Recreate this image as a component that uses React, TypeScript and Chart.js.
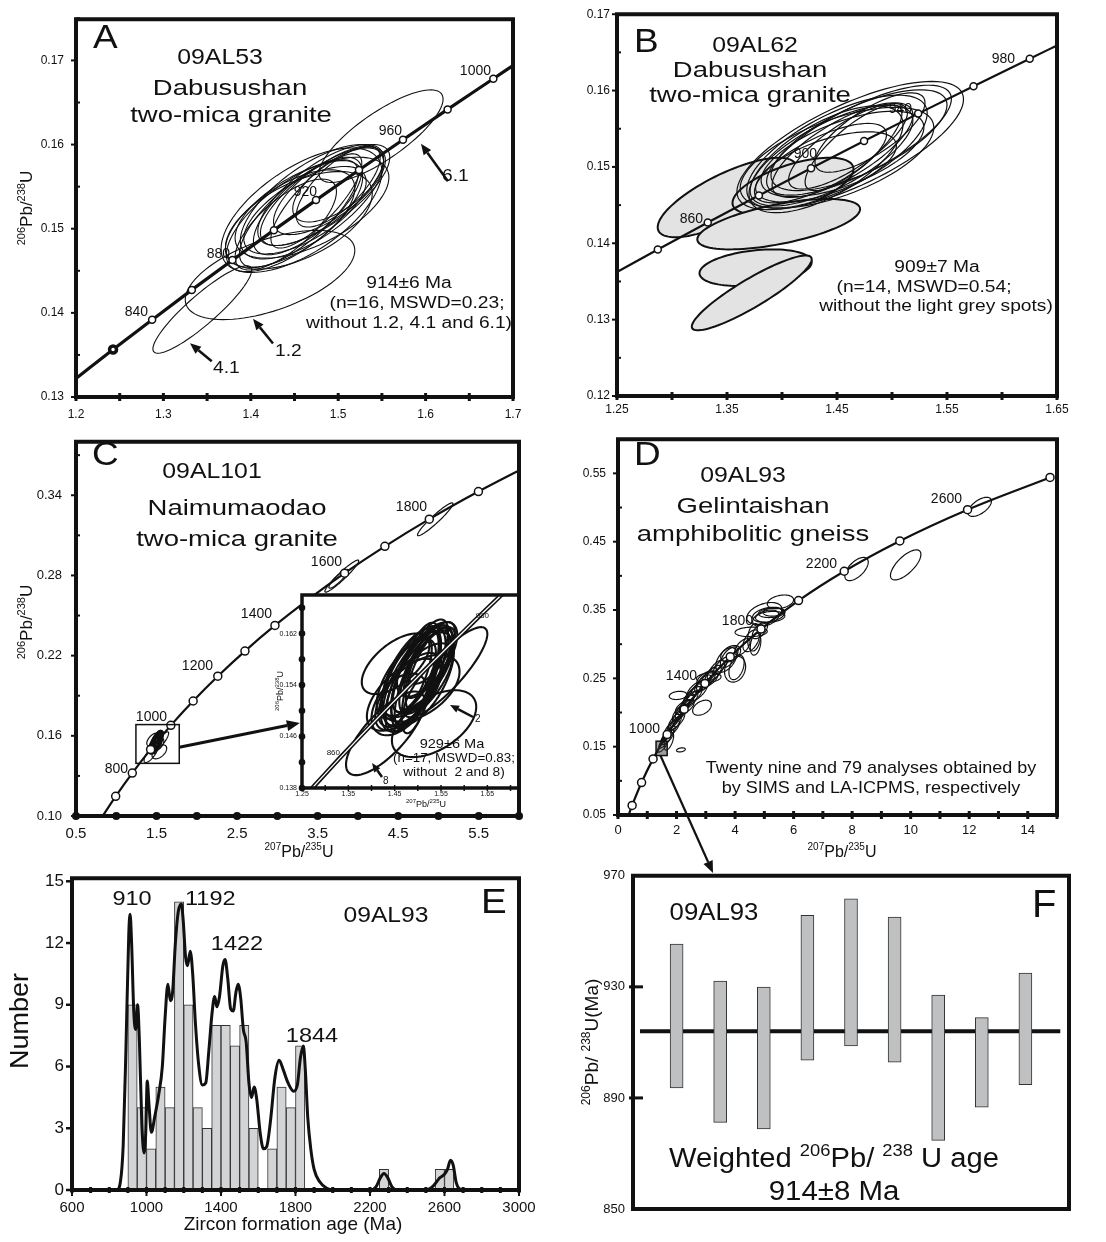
import React, { useEffect, useRef } from "react";
import { Chart, registerables } from "chart.js";

Chart.register(...registerables);

const FONT = "'Liberation Sans', Arial, Helvetica, sans-serif";
const INK = "#111";

type Ell = [number, number, number, number, number]; // cx, cy, halfX, halfY, rho

// ================= Panel A : 09AL53 =================
const aAgeX = [1.2424, 1.2871, 1.3325, 1.379, 1.4264, 1.4746, 1.5238, 1.5741, 1.6252, 1.6775];
const aAgeY = [0.13564, 0.13918, 0.14273, 0.14627, 0.14983, 0.1534, 0.15698, 0.16057, 0.16418, 0.16782];
const aEndX = [1.2, 1.7];
const aEndY = [0.1322, 0.1694];
const aCluster: Ell[] = [
  [1.458, 0.1522, 0.092, 0.0074, 0.62],
  [1.47, 0.1532, 0.082, 0.0068, 0.68],
  [1.45, 0.1515, 0.078, 0.0066, 0.7],
  [1.48, 0.154, 0.072, 0.006, 0.72],
  [1.455, 0.1518, 0.068, 0.0064, 0.75],
  [1.465, 0.1527, 0.062, 0.0058, 0.72],
  [1.49, 0.1545, 0.064, 0.0052, 0.7],
  [1.445, 0.1512, 0.074, 0.0058, 0.62],
  [1.475, 0.1533, 0.052, 0.0056, 0.8],
  [1.5, 0.1552, 0.052, 0.0044, 0.65],
  [1.47, 0.1525, 0.088, 0.006, 0.6],
  [1.455, 0.151, 0.084, 0.0058, 0.55],
  [1.485, 0.154, 0.074, 0.006, 0.75],
  [1.44, 0.1505, 0.058, 0.0054, 0.72],
  [1.5, 0.155, 0.048, 0.0048, 0.72],
  [1.462, 0.1522, 0.07, 0.0052, 0.65],
];
const aOutliers: Ell[] = [
  [1.549, 0.161, 0.071, 0.0055, 0.8], // 6.1
  [1.422, 0.1445, 0.097, 0.0053, 0.55], // 1.2
  [1.3445, 0.1404, 0.0565, 0.0052, 0.9], // 4.1
];

// ================= Panel B : 09AL62 =================
const bAgeX = [1.2871, 1.3325, 1.379, 1.4264, 1.4746, 1.5238, 1.5741, 1.6252];
const bAgeY = [0.13918, 0.14273, 0.14627, 0.14983, 0.1534, 0.15698, 0.16057, 0.16418];
const bEndX = [1.25, 1.65];
const bEndY = [0.13625, 0.1659];
const bAccepted: Ell[] = [
  [1.462, 0.1528, 0.103, 0.0084, 0.72],
  [1.45, 0.152, 0.082, 0.0074, 0.68],
  [1.445, 0.1515, 0.074, 0.0066, 0.7],
  [1.455, 0.1522, 0.064, 0.0062, 0.74],
  [1.44, 0.151, 0.07, 0.007, 0.65],
  [1.46, 0.1527, 0.054, 0.0056, 0.78],
  [1.47, 0.1535, 0.08, 0.0066, 0.7],
  [1.435, 0.1505, 0.06, 0.0052, 0.72],
  [1.48, 0.1545, 0.05, 0.0052, 0.75],
  [1.45, 0.1512, 0.088, 0.0066, 0.6],
  [1.465, 0.1525, 0.044, 0.0056, 0.8],
  [1.44, 0.15, 0.064, 0.0046, 0.6],
  [1.47, 0.1535, 0.084, 0.0072, 0.75],
  [1.455, 0.1517, 0.074, 0.0056, 0.62],
];
const bRejected: Ell[] = [
  [1.35, 0.146, 0.063, 0.0052, 0.75],
  [1.41, 0.1475, 0.055, 0.0037, 0.6],
  [1.397, 0.1425, 0.074, 0.0033, 0.6],
  [1.376, 0.1368, 0.051, 0.0024, 0.3],
  [1.3725, 0.1335, 0.0545, 0.0049, 0.9],
];

// ================= Panel C : 09AL101 =================
const cAgeX = [0.99255, 1.19872, 1.4264, 1.6775, 1.95458, 2.2604, 2.59759, 2.9701, 3.38118, 3.8346, 4.33478, 4.8863, 5.49626];
const cAgeY = [0.1147, 0.13213, 0.14983, 0.16782, 0.18606, 0.20459, 0.22342, 0.24257, 0.26198, 0.28172, 0.30176, 0.32213, 0.34278];
const cEndX = [0.832, 6.1684];
const cEndY = [0.1001, 0.36377];
const cOld: Ell[] = [
  [3.8, 0.2795, 0.21, 0.012, 0.95],
  [3.76, 0.2775, 0.12, 0.007, 0.9],
  [4.96, 0.322, 0.22, 0.0123, 0.95],
];
const cInsetEll: Ell[] = [
  [1.452, 0.1573, 0.073, 0.0047, 0.6],
  [1.56, 0.156, 0.09, 0.007, 0.85],
  [1.535, 0.148, 0.091, 0.0052, 0.5],
  [1.43, 0.1465, 0.085, 0.0065, 0.75],
  [1.5, 0.1555, 0.075, 0.0078, 0.7],
  [1.49, 0.155, 0.07, 0.0082, 0.65],
  [1.51, 0.1565, 0.065, 0.0068, 0.7],
  [1.495, 0.154, 0.08, 0.0065, 0.7],
  [1.505, 0.157, 0.06, 0.0072, 0.75],
  [1.48, 0.153, 0.072, 0.006, 0.65],
  [1.515, 0.156, 0.055, 0.0065, 0.7],
  [1.5, 0.155, 0.05, 0.0074, 0.75],
  [1.47, 0.1525, 0.08, 0.0056, 0.6],
  [1.52, 0.158, 0.065, 0.0058, 0.65],
  [1.49, 0.1545, 0.06, 0.0078, 0.7],
  [1.505, 0.1535, 0.085, 0.0052, 0.5],
  [1.485, 0.156, 0.062, 0.0068, 0.65],
  [1.525, 0.1575, 0.055, 0.0055, 0.75],
  [1.46, 0.151, 0.06, 0.0048, 0.45],
  [1.495, 0.1555, 0.052, 0.0082, 0.7],
  [1.51, 0.155, 0.068, 0.0072, 0.6],
  [1.48, 0.1545, 0.05, 0.0068, 0.75],
  [1.5, 0.156, 0.078, 0.007, 0.65],
  [1.52, 0.1565, 0.046, 0.0064, 0.75],
  [1.475, 0.155, 0.064, 0.0062, 0.65],
  [1.505, 0.1545, 0.04, 0.008, 0.7],
  [1.53, 0.159, 0.05, 0.0048, 0.7],
];
const iLineX = [1.2424, 1.2871, 1.3325, 1.379, 1.4264, 1.4746, 1.5238, 1.5741, 1.6252, 1.6775, 1.7307];
const iLineY = [0.13564, 0.13918, 0.14273, 0.14627, 0.14983, 0.1534, 0.15698, 0.16057, 0.16418, 0.16782, 0.17144];

// ================= Panel D : 09AL93 =================
const dAgeX = [0.4828, 0.8056, 1.1987, 1.6775, 2.2604, 2.9701, 3.8346, 4.8863, 6.1684, 7.7296, 9.6295, 11.944, 14.762];
const dAgeY = [0.06401, 0.09754, 0.13213, 0.16782, 0.20459, 0.24257, 0.28172, 0.32213, 0.36377, 0.40674, 0.45108, 0.4968, 0.54399];
const dStartX = [0.36];
const dStartY = [0.05];
const dEll: Ell[] = [
  [1.52, 0.15, 0.16, 0.008, 0.8], [1.6, 0.158, 0.2, 0.01, 0.8], [1.68, 0.164, 0.22, 0.011, 0.7],
  [1.76, 0.17, 0.2, 0.01, 0.8], [1.84, 0.177, 0.26, 0.012, 0.7], [1.74, 0.158, 0.16, 0.013, 0.6],
  [1.92, 0.183, 0.24, 0.011, 0.8], [2.0, 0.188, 0.28, 0.013, 0.7], [2.06, 0.195, 0.2, 0.011, 0.8],
  [2.12, 0.2, 0.26, 0.012, 0.7], [2.2, 0.205, 0.24, 0.013, 0.8], [2.28, 0.208, 0.32, 0.011, 0.6],
  [2.35, 0.214, 0.26, 0.013, 0.8], [2.05, 0.225, 0.3, 0.006, 0.2], [2.45, 0.218, 0.28, 0.013, 0.7],
  [2.55, 0.224, 0.32, 0.014, 0.7], [2.6, 0.23, 0.24, 0.012, 0.8], [2.7, 0.232, 0.36, 0.015, 0.6],
  [2.75, 0.236, 0.26, 0.011, 0.8], [2.87, 0.207, 0.32, 0.011, 0.4], [2.9, 0.242, 0.28, 0.013, 0.7],
  [3.0, 0.246, 0.32, 0.014, 0.7], [3.05, 0.249, 0.36, 0.012, 0.5], [3.1, 0.253, 0.26, 0.013, 0.8],
  [3.1, 0.251, 0.42, 0.007, 0.2], [3.25, 0.256, 0.28, 0.013, 0.7], [3.35, 0.262, 0.3, 0.015, 0.7],
  [3.5, 0.268, 0.26, 0.013, 0.8], [3.7, 0.277, 0.36, 0.018, 0.5], [3.8, 0.281, 0.3, 0.015, 0.6],
  [4.0, 0.2635, 0.36, 0.019, 0.2], [4.05, 0.266, 0.26, 0.018, 0.4], [3.85, 0.286, 0.34, 0.012, 0.4],
  [4.25, 0.296, 0.26, 0.012, 0.6], [4.55, 0.305, 0.28, 0.016, 0.5], [4.65, 0.31, 0.22, 0.02, 0.2],
  [4.55, 0.318, 0.55, 0.007, 0.1], [4.7, 0.3, 0.18, 0.016, 0.3], [4.85, 0.32, 0.26, 0.012, 0.6],
  [5.05, 0.338, 0.45, 0.012, 0.4], [5.15, 0.343, 0.55, 0.011, 0.3], [5.2, 0.34, 0.5, 0.008, 0.2],
  [5.25, 0.346, 0.45, 0.007, 0.2], [5.0, 0.345, 0.6, 0.016, 0.4], [5.55, 0.362, 0.45, 0.01, 0.3],
  [5.3, 0.347, 0.34, 0.006, 0.1], [8.15, 0.41, 0.4, 0.017, 0.6], [9.83, 0.416, 0.52, 0.022, 0.7],
  [12.36, 0.501, 0.4, 0.014, 0.6], [2.15, 0.1453, 0.15, 0.003, 0.3],
  [1.65, 0.165, 0.18, 0.009, 0.9], [2.3, 0.21, 0.2, 0.009, 0.9], [2.5, 0.222, 0.22, 0.01, 0.9],
  [1.95, 0.186, 0.18, 0.009, 0.9],
];

// ================= Panel E : histogram =================
const eBinCenter = [925, 975, 1025, 1075, 1125, 1175, 1225, 1275, 1325, 1375, 1425, 1475, 1525, 1575, 1625, 1675, 1725, 1775, 1825, 2275, 2575, 2625];
const eCount = [9, 4, 2, 5, 4, 14, 9, 4, 3, 8, 8, 7, 8, 3, 0, 2, 5, 4, 7, 1, 1, 1];
const eKdeAge = [600, 840, 860, 875, 890, 905, 912, 920, 932, 942, 952, 962, 975, 987, 996, 1004, 1013, 1026, 1045, 1065, 1085, 1100, 1115, 1128, 1140, 1155, 1170, 1187, 1197, 1210, 1220, 1235, 1248, 1262, 1280, 1300, 1318, 1335, 1352, 1366, 1378, 1392, 1410, 1422, 1436, 1452, 1466, 1480, 1492, 1506, 1520, 1535, 1550, 1564, 1578, 1592, 1610, 1628, 1645, 1665, 1690, 1712, 1732, 1760, 1790, 1810, 1826, 1842, 1853, 1866, 1882, 1900, 1930, 1965, 2000, 2200, 2232, 2256, 2275, 2295, 2318, 2345, 2500, 2540, 2570, 2598, 2616, 2632, 2647, 2662, 2682, 2710, 3000];
const eKdeDen = [0, 0, 0.4, 2.2, 7, 12.5, 13.4, 12, 8.6, 7.8, 9.0, 7.2, 3.2, 1.8, 2.8, 5.3, 4.2, 2.8, 3.6, 4.6, 6, 8.4, 10, 9.2, 9.6, 12, 13.5, 13.9, 13.1, 11.3, 10.9, 11.6, 10.5, 8.2, 6.1, 5.1, 5.2, 6.8, 8.6, 9.4, 8.9, 9.4, 10.9, 11.2, 10.3, 8.8, 8.7, 9.6, 10, 9.3, 7.8, 7.2, 5.2, 4.5, 5.0, 4.4, 2.8, 2.0, 2.1, 3.3, 5.5, 6.3, 5.9, 5.2, 4.8, 5.1, 6.4, 7.0, 5.8, 3.5, 2.0, 1.0, 0.4, 0.1, 0, 0, 0.15, 0.6, 0.8, 0.6, 0.15, 0, 0, 0.2, 0.55, 0.75, 1.0, 1.45, 1.2, 0.4, 0.05, 0, 0];

// ================= Panel F : weighted mean =================
const fSpot = [1, 2, 3, 4, 5, 6, 7, 8, 9];
const fLow = [893.6, 881.2, 878.8, 903.6, 908.7, 902.9, 874.7, 886.7, 894.8];
const fHigh = [945.4, 932.1, 929.9, 955.8, 961.7, 955.1, 927.0, 918.9, 935.0];
const fMean = 914;
const fMeanSpan = [0.16, 9.8];

// ================= helpers =================
const zip = (xs: number[], ys: number[]) => xs.map((x, i) => ({ x, y: ys[i] }));

function ellPath(ctx: any, xs: any, ys: any, e: Ell) {
  const [cx, cy, dx, dy, r] = e;
  const s = Math.sqrt(1 - r * r);
  ctx.beginPath();
  for (let i = 0; i <= 90; i++) {
    const t = (i / 90) * Math.PI * 2;
    const px = xs.getPixelForValue(cx + dx * Math.cos(t));
    const py = ys.getPixelForValue(cy + dy * (r * Math.cos(t) + s * Math.sin(t)));
    if (i === 0) ctx.moveTo(px, py);
    else ctx.lineTo(px, py);
  }
  ctx.closePath();
}

function drawText(ctx: any, it: any, off: number[]) {
  ctx.save();
  ctx.translate(it.x - off[0], it.y - off[1]);
  if (it.rot) ctx.rotate((it.rot * Math.PI) / 180);
  ctx.scale(it.sx || 1, 1);
  ctx.font = `${it.size}px ${FONT}`;
  ctx.fillStyle = it.color || INK;
  ctx.textAlign = it.align || "left";
  ctx.textBaseline = "alphabetic";
  ctx.fillText(it.t, 0, 0);
  ctx.restore();
}

function drawRich(ctx: any, it: any, off: number[]) {
  ctx.save();
  ctx.translate(it.x - off[0], it.y - off[1]);
  if (it.rot) ctx.rotate((it.rot * Math.PI) / 180);
  ctx.scale(it.sx || 1, 1);
  ctx.fillStyle = INK;
  ctx.textAlign = "left";
  ctx.textBaseline = "alphabetic";
  const sup = it.sup || Math.round(it.size * 0.62);
  let w = 0;
  const ws = it.parts.map((p: any) => {
    ctx.font = `${p[1] ? sup : it.size}px ${FONT}`;
    const m = ctx.measureText(p[0]).width;
    w += m;
    return m;
  });
  let x = it.align === "left" ? 0 : -w / 2;
  it.parts.forEach((p: any, i: number) => {
    ctx.font = `${p[1] ? sup : it.size}px ${FONT}`;
    ctx.fillText(p[0], x, p[1] ? -it.size * 0.42 : 0);
    x += ws[i];
  });
  ctx.restore();
}

function drawArrow(ctx: any, x1: number, y1: number, x2: number, y2: number, lw: number, head: number) {
  const ang = Math.atan2(y2 - y1, x2 - x1);
  const hw = head * 0.42;
  const bx = x2 - head * Math.cos(ang);
  const by = y2 - head * Math.sin(ang);
  ctx.lineWidth = lw;
  ctx.beginPath();
  ctx.moveTo(x1, y1);
  ctx.lineTo(bx, by);
  ctx.stroke();
  ctx.beginPath();
  ctx.moveTo(x2, y2);
  ctx.lineTo(bx + hw * Math.sin(ang), by - hw * Math.cos(ang));
  ctx.lineTo(bx - hw * Math.sin(ang), by + hw * Math.cos(ang));
  ctx.closePath();
  ctx.fill();
}

function makeDeco(d: any) {
  const off = d.off;
  const pt = (chart: any, p: any) =>
    p[0] === "d"
      ? [chart.scales.x.getPixelForValue(p[1]), chart.scales.y.getPixelForValue(p[2])]
      : [p[1] - off[0], p[2] - off[1]];
  return {
    id: "deco" + d.name,
    beforeDatasetsDraw(chart: any) {
      const ctx = chart.ctx;
      const { left, top, right, bottom } = chart.chartArea;
      ctx.save();
      if (d.bg) {
        ctx.fillStyle = d.bg;
        ctx.fillRect(left, top, right - left, bottom - top);
      }
      ctx.beginPath();
      ctx.rect(left, top, right - left, bottom - top);
      ctx.clip();
      (d.under || []).forEach((t: any) => drawText(ctx, t, off));
      (d.ellipses || []).forEach((g: any) => {
        g.list.forEach((e: Ell) => {
          ellPath(ctx, chart.scales.x, chart.scales.y, e);
          if (g.fill) {
            ctx.fillStyle = g.fill;
            ctx.fill();
          }
          ctx.strokeStyle = g.stroke || INK;
          ctx.lineWidth = g.lw;
          ctx.stroke();
        });
      });
      ctx.restore();
    },
    afterDatasetsDraw(chart: any) {
      const ctx = chart.ctx;
      const { left, top, right, bottom } = chart.chartArea;
      ctx.save();
      ctx.strokeStyle = INK;
      ctx.fillStyle = INK;
      (d.rects || []).forEach((r: any) => {
        const xs = chart.scales.x, ys = chart.scales.y;
        const x1 = xs.getPixelForValue(r.x1), x2 = xs.getPixelForValue(r.x2);
        const y1 = ys.getPixelForValue(r.y1), y2 = ys.getPixelForValue(r.y2);
        if (r.fill) {
          ctx.fillStyle = r.fill;
          ctx.fillRect(x1, y2, x2 - x1, y1 - y2);
          ctx.fillStyle = INK;
        }
        ctx.lineWidth = r.lw;
        ctx.strokeRect(x1, y2, x2 - x1, y1 - y2);
      });
      (d.arrows || []).forEach((a: any) => {
        const p1 = pt(chart, a.a), p2 = pt(chart, a.b);
        drawArrow(ctx, p1[0], p1[1], p2[0], p2[1], a.lw, a.head);
      });
      (d.texts || []).forEach((t: any) => drawText(ctx, t, off));
      (d.rich || []).forEach((t: any) => drawRich(ctx, t, off));
      (d.ticks || []).forEach((k: any) => {
        const sc = chart.scales[k.axis];
        const n = Math.round((k.to - k.from) / k.step);
        ctx.lineWidth = k.lw;
        for (let i = 0; i <= n; i++) {
          const v = k.from + i * k.step;
          const p = sc.getPixelForValue(v);
          if (k.dot) {
            ctx.beginPath();
            if (k.axis === "x") ctx.arc(p, bottom, k.dot, 0, Math.PI * 2);
            else ctx.arc(left, p, k.dot, 0, Math.PI * 2);
            ctx.fill();
          } else {
            ctx.beginPath();
            if (k.axis === "x") {
              ctx.moveTo(p, bottom + k.out);
              ctx.lineTo(p, bottom - k.inn);
            } else {
              ctx.moveTo(left - k.out, p);
              ctx.lineTo(left + k.inn, p);
            }
            ctx.stroke();
          }
        }
      });
      if (d.border) {
        ctx.lineWidth = d.border;
        const sides = d.sides || "ltrb";
        ctx.beginPath();
        if (sides.includes("l")) { ctx.moveTo(left, top - d.border / 2); ctx.lineTo(left, bottom + d.border / 2); }
        if (sides.includes("r")) { ctx.moveTo(right, top - d.border / 2); ctx.lineTo(right, bottom + d.border / 2); }
        if (sides.includes("t")) { ctx.moveTo(left, top); ctx.lineTo(right, top); }
        if (sides.includes("b")) { ctx.moveTo(left, bottom); ctx.lineTo(right, bottom); }
        ctx.stroke();
      }
      ctx.restore();
    },
  };
}

const mkAxis = (a: any, dim: string, fit: number) => ({
  type: "linear",
  min: a.min,
  max: a.max,
  offset: false,
  display: a.display === false ? false : true,
  grid: { display: false, drawTicks: false },
  border: { display: false },
  ticks: {
    color: INK,
    font: { family: FONT, size: a.size },
    padding: a.pad,
    autoSkip: false,
    maxRotation: 0,
    minRotation: 0,
    callback: (v: any) => Number(v).toFixed(a.dec),
  },
  afterBuildTicks: (s: any) => {
    s.ticks = a.ticks.map((v: number) => ({ value: v }));
  },
  afterFit: (s: any) => {
    s[dim] = fit;
  },
});

function baseOptions(p: any) {
  return {
    animation: false,
    responsive: false,
    maintainAspectRatio: false,
    events: [],
    layout: { padding: p.pad },
    plugins: { legend: { display: false }, tooltip: { enabled: false } },
    scales: { x: mkAxis(p.x, "height", p.xH), y: mkAxis(p.y, "width", p.yW) },
  };
}

function concordiaConfig(p: any) {
  return {
    type: "scatter",
    data: {
      datasets: [
        {
          data: p.markers,
          showLine: false,
          pointRadius: p.mr,
          pointBackgroundColor: "#fff",
          pointBorderColor: INK,
          pointBorderWidth: p.mbw || 1.5,
        },
        {
          data: p.line,
          showLine: true,
          borderColor: INK,
          borderWidth: p.lw,
          pointRadius: 0,
          cubicInterpolationMode: "monotone",
          fill: false,
        },
      ],
    },
    options: baseOptions(p),
    plugins: [makeDeco(p.deco)],
  };
}

const big = (t: string, x: number, y: number) => ({ t, x, y, size: 22, sx: 1.25, align: "center" });
const sample = (t: string, x: number, y: number) => ({ t, x, y, size: 22, sx: 1.13, align: "center" });
const letter = (t: string, x: number, y: number) => ({ t, x, y, size: 33, sx: 1.12 });
const ageLbl = (t: string, x: number, y: number) => ({ t, x, y, size: 14, align: "right" });
const note = (t: string, x: number, y: number) => ({ t, x, y, size: 16, sx: 1.2, align: "center" });
const PB68 = [["206", true], ["Pb/", false], ["238", true], ["U", false]];
const PB75 = [["207", true], ["Pb/", false], ["235", true], ["U", false]];

const PANELS = [
  { id: "A", left: 0, top: 0, w: 550, h: 425 },
  { id: "B", left: 550, top: 0, w: 556, h: 425 },
  { id: "C", left: 0, top: 420, w: 550, h: 440 },
  { id: "D", left: 550, top: 420, w: 556, h: 460 },
  { id: "E", left: 0, top: 860, w: 550, h: 382 },
  { id: "F", left: 560, top: 860, w: 546, h: 382 },
  { id: "I", left: 266, top: 585, w: 254, h: 232 },
];

function cfgA() {
  return concordiaConfig({
    x: { min: 1.2, max: 1.7, ticks: [1.2, 1.3, 1.4, 1.5, 1.6, 1.7], dec: 1, size: 12, pad: 10 },
    y: { min: 0.13, max: 0.1749, ticks: [0.13, 0.14, 0.15, 0.16, 0.17], dec: 2, size: 12, pad: 12 },
    yW: 76, xH: 22, pad: { left: 0, top: 15, right: 37, bottom: 6 },
    markers: zip(aAgeX, aAgeY), mr: 3.5,
    mbw: (c: any) => (c.dataIndex === 0 ? 3.5 : 1.5),
    line: zip([aEndX[0], ...aAgeX, aEndX[1]], [aEndY[0], ...aAgeY, aEndY[1]]), lw: 3.2,
    deco: {
      name: "A", off: [0, 0], border: 4,
      under: [ageLbl("920", 317, 196), ageLbl("880", 230, 258)],
      ellipses: [{ list: aOutliers, lw: 1.1 }, { list: aCluster, lw: 1.1 }],
      arrows: [
        { a: ["d", 1.6256, 0.15565], b: ["d", 1.5947, 0.1601], lw: 2.5, head: 11 },
        { a: ["d", 1.4254, 0.13635], b: ["d", 1.4025, 0.13929], lw: 2.5, head: 11 },
        { a: ["d", 1.3553, 0.13424], b: ["d", 1.3304, 0.13639], lw: 2.5, head: 11 },
      ],
      texts: [
        letter("A", 93, 48), sample("09AL53", 220, 64), big("Dabusushan", 230, 95), big("two-mica granite", 231, 122),
        ageLbl("1000", 491, 75), ageLbl("960", 402, 135), ageLbl("840", 148, 316),
        note("914±6 Ma", 409, 288), note("(n=16, MSWD=0.23;", 417, 308), note("without 1.2, 4.1 and 6.1)", 409, 328),
        { t: "6.1", x: 442, y: 181, size: 16, sx: 1.2 }, { t: "1.2", x: 275, y: 356, size: 16, sx: 1.2 },
        { t: "4.1", x: 213, y: 373, size: 16, sx: 1.2 },
      ],
      rich: [{ parts: PB68, x: 32, y: 208, size: 17, sup: 11, rot: -90 }],
      ticks: [
        { axis: "x", from: 1.2, to: 1.7, step: 0.05, out: 4, inn: 4, lw: 3 },
        { axis: "y", from: 0.13, to: 0.17, step: 0.01, out: 5, inn: 0, lw: 2 },
        { axis: "y", from: 0.135, to: 0.175, step: 0.01, out: 0, inn: 4, lw: 2 },
      ],
    },
  });
}

function cfgB() {
  return concordiaConfig({
    x: { min: 1.25, max: 1.65, ticks: [1.25, 1.35, 1.45, 1.55, 1.65], dec: 2, size: 12, pad: 6 },
    y: { min: 0.12, max: 0.17, ticks: [0.12, 0.13, 0.14, 0.15, 0.16, 0.17], dec: 2, size: 12, pad: 7 },
    yW: 67, xH: 22, pad: { left: 0, top: 13, right: 49, bottom: 7 },
    markers: zip(bAgeX, bAgeY), mr: 3.5,
    line: zip([bEndX[0], ...bAgeX, bEndX[1]], [bEndY[0], ...bAgeY, bEndY[1]]), lw: 2.2,
    deco: {
      name: "B", off: [550, 0], border: 4,
      under: [ageLbl("940", 912, 113), ageLbl("900", 817, 158)],
      ellipses: [{ list: bRejected, lw: 2, fill: "#e3e3e3" }, { list: bAccepted, lw: 1.2 }],
      texts: [
        letter("B", 634, 52), sample("09AL62", 755, 52), big("Dabusushan", 750, 77), big("two-mica granite", 750, 102),
        ageLbl("980", 1015, 63), ageLbl("860", 703, 223),
        note("909±7 Ma", 937, 272), note("(n=14, MSWD=0.54;", 924, 292), note("without the light grey spots)", 936, 311),
      ],
      ticks: [
        { axis: "x", from: 1.25, to: 1.65, step: 0.05, out: 4, inn: 4, lw: 3 },
        { axis: "y", from: 0.12, to: 0.17, step: 0.01, out: 5, inn: 0, lw: 2 },
        { axis: "y", from: 0.125, to: 0.165, step: 0.01, out: 0, inn: 4, lw: 2 },
      ],
    },
  });
}

function cfgC() {
  return concordiaConfig({
    x: { min: 0.5, max: 6.0, ticks: [0.5, 1.5, 2.5, 3.5, 4.5, 5.5], dec: 1, size: 15, pad: 9 },
    y: { min: 0.1, max: 0.38, ticks: [0.1, 0.16, 0.22, 0.28, 0.34], dec: 2, size: 13, pad: 14 },
    yW: 76, xH: 24, pad: { left: 0, top: 10, right: 31, bottom: 20 },
    markers: zip(cAgeX, cAgeY), mr: 4,
    line: zip([cEndX[0], ...cAgeX, cEndX[1]], [cEndY[0], ...cAgeY, cEndY[1]]), lw: 2.2,
    deco: {
      name: "C", off: [0, 420], border: 4,
      ellipses: [{ list: cOld, lw: 1.2 }, { list: cInsetEll, lw: 1.2 }],
      rects: [{ x1: 1.244, x2: 1.782, y1: 0.1394, y2: 0.1684, lw: 1.5 }],
      arrows: [{ a: ["d", 1.782, 0.1515], b: ["d", 3.279, 0.1696], lw: 3, head: 13 }],
      texts: [
        letter("C", 92, 465), sample("09AL101", 212, 478), big("Naimumaodao", 237, 515), big("two-mica granite", 237, 546),
        ageLbl("800", 128, 773), ageLbl("1000", 167, 721), ageLbl("1200", 213, 670), ageLbl("1400", 272, 618),
        ageLbl("1600", 342, 566), ageLbl("1800", 427, 511),
      ],
      rich: [
        { parts: PB68, x: 32, y: 622, size: 17, sup: 11, rot: -90 },
        { parts: PB75, x: 299, y: 857, size: 16, sup: 10 },
      ],
      ticks: [
        { axis: "x", from: 0.5, to: 6.0, step: 0.5, dot: 4 },
        { axis: "y", from: 0.1, to: 0.34, step: 0.06, out: 5, inn: 0, lw: 2 },
        { axis: "y", from: 0.13, to: 0.37, step: 0.06, out: 0, inn: 4, lw: 2 },
      ],
    },
  });
}

function cfgInset() {
  return {
    type: "scatter",
    data: {
      datasets: [
        { data: zip(iLineX, iLineY), showLine: true, borderColor: "#fff", borderWidth: 1.3, pointRadius: 0 },
        { data: zip(iLineX, iLineY), showLine: true, borderColor: INK, borderWidth: 4.5, pointRadius: 0 },
      ],
    },
    options: baseOptions({
      x: { min: 1.25, max: 1.714, ticks: [1.25, 1.35, 1.45, 1.55, 1.65], dec: 2, size: 7, pad: 2 },
      y: { min: 0.138, max: 0.168, ticks: [0.138, 0.146, 0.154, 0.162], dec: 3, size: 7, pad: 5 },
      yW: 36, xH: 10, pad: { left: 0, top: 10, right: 3, bottom: 19 },
    }),
    plugins: [
      makeDeco({
        name: "I", off: [266, 585], border: 3.5, sides: "ltb", bg: "#fff",
        ellipses: [{ list: cInsetEll, lw: 2.1 }],
        arrows: [
          { a: ["p", 473, 717], b: ["p", 450, 705], lw: 2.5, head: 9 },
          { a: ["p", 382, 777], b: ["p", 372, 763], lw: 2.5, head: 9 },
        ],
        texts: [
          { t: "929±6 Ma", x: 452, y: 748, size: 13, sx: 1.12, align: "center" },
          { t: "(n=17, MSWD=0.83;", x: 454, y: 762, size: 12.5, sx: 1.07, align: "center" },
          { t: "without  2 and 8)", x: 454, y: 776, size: 12.5, sx: 1.1, align: "center" },
          { t: "2", x: 475, y: 722, size: 10 },
          { t: "8", x: 383, y: 784, size: 10 },
          { t: "860", x: 340, y: 755, size: 8, align: "right" },
          { t: "980", x: 489, y: 618, size: 8, align: "right" },
        ],
        rich: [
          { parts: PB75, x: 426, y: 807, size: 9, sup: 6 },
          { parts: PB68, x: 283, y: 691, size: 9, sup: 6, rot: -90 },
        ],
        ticks: [
          { axis: "x", from: 1.25, to: 1.7, step: 0.05, out: 3, inn: 3, lw: 1.5 },
          { axis: "y", from: 0.138, to: 0.166, step: 0.004, dot: 3.3 },
        ],
      }),
    ],
  };
}

function cfgD() {
  return concordiaConfig({
    x: { min: 0, max: 15, ticks: [0, 2, 4, 6, 8, 10, 12, 14], dec: 0, size: 13, pad: 8 },
    y: { min: 0.05, max: 0.6, ticks: [0.05, 0.15, 0.25, 0.35, 0.45, 0.55], dec: 2, size: 12, pad: 12 },
    yW: 68, xH: 22, pad: { left: 0, top: 9, right: 49, bottom: 43 },
    markers: zip(dAgeX, dAgeY), mr: 4,
    line: zip([...dStartX, ...dAgeX], [...dStartY, ...dAgeY]), lw: 2.2,
    deco: {
      name: "D", off: [550, 420], border: 4,
      ellipses: [{ list: dEll, lw: 1.2 }],
      rects: [{ x1: 1.3, x2: 1.68, y1: 0.137, y2: 0.158, lw: 1.5, fill: "rgba(40,40,40,0.45)" }],
      arrows: [{ a: ["d", 1.45, 0.137], b: ["p", 713, 873], lw: 2.2, head: 12 }],
      texts: [
        letter("D", 634, 465), sample("09AL93", 743, 482), big("Gelintaishan", 753, 513), big("amphibolitic gneiss", 753, 541),
        ageLbl("2600", 962, 503), ageLbl("2200", 837, 568), ageLbl("1800", 753, 625), ageLbl("1400", 697, 680), ageLbl("1000", 660, 733),
        { t: "Twenty nine and 79 analyses obtained by", x: 871, y: 773, size: 17, sx: 1.06, align: "center" },
        { t: "by SIMS and LA-ICPMS, respectively", x: 871, y: 793, size: 17, sx: 1.06, align: "center" },
      ],
      rich: [{ parts: PB75, x: 842, y: 857, size: 16, sup: 10 }],
      ticks: [
        { axis: "x", from: 0, to: 15, step: 1, out: 4, inn: 4, lw: 3 },
        { axis: "y", from: 0.05, to: 0.55, step: 0.1, out: 5, inn: 0, lw: 2 },
        { axis: "y", from: 0.1, to: 0.6, step: 0.1, out: 0, inn: 4, lw: 2 },
      ],
    },
  });
}

function cfgE() {
  const opts: any = baseOptions({
    x: { min: 600, max: 3000, ticks: [600, 1000, 1400, 1800, 2200, 2600, 3000], dec: 0, size: 15, pad: 9 },
    y: { min: 0, max: 15.15, ticks: [0, 3, 6, 9, 12, 15], dec: 0, size: 17, pad: 8 },
    yW: 72, xH: 24, pad: { left: 0, top: 13, right: 31, bottom: 28 },
  });
  return {
    type: "bar",
    data: {
      datasets: [
        {
          type: "line",
          data: zip(eKdeAge, eKdeDen),
          borderColor: INK,
          borderWidth: 3,
          pointRadius: 0,
          cubicInterpolationMode: "monotone",
          fill: false,
        },
        {
          type: "bar",
          data: zip(eBinCenter, eCount),
          backgroundColor: "#d3d4d6",
          borderColor: "#333",
          borderWidth: 1,
          borderSkipped: false,
          barPercentage: 1,
          categoryPercentage: 1,
          grouped: false,
        },
      ],
    },
    options: opts,
    plugins: [
      makeDeco({
        name: "E", off: [0, 860], border: 4,
        texts: [
          { t: "E", x: 481, y: 913, size: 35, sx: 1.1 },
          { t: "09AL93", x: 386, y: 922, size: 22, sx: 1.12, align: "center" },
          { t: "910", x: 132, y: 905, size: 21, sx: 1.12, align: "center" },
          { t: "1192", x: 185, y: 905, size: 21, sx: 1.12 },
          { t: "1422", x: 237, y: 950, size: 21, sx: 1.12, align: "center" },
          { t: "1844", x: 312, y: 1042, size: 21, sx: 1.12, align: "center" },
          { t: "Number", x: 28, y: 1021, size: 25, sx: 1.08, rot: -90, align: "center" },
          { t: "Zircon formation age (Ma)", x: 293, y: 1230, size: 19, align: "center" },
        ],
        ticks: [
          { axis: "x", from: 600, to: 3000, step: 100, out: 3, inn: 3, lw: 3 },
          { axis: "x", from: 600, to: 3000, step: 400, out: 6, inn: 0, lw: 2 },
          { axis: "y", from: 0, to: 15, step: 3, out: 6, inn: 0, lw: 2.5 },
        ],
      }),
    ],
  };
}

function cfgF() {
  const opts: any = baseOptions({
    x: { min: 0, max: 10, ticks: [], dec: 0, size: 10, pad: 0, display: false },
    y: { min: 850, max: 970, ticks: [850, 890, 930, 970], dec: 0, size: 13, pad: 8 },
    yW: 73, xH: 0, pad: { left: 0, top: 15, right: 37, bottom: 33 },
  });
  return {
    type: "bar",
    data: {
      datasets: [
        {
          type: "bar",
          data: fSpot.map((s, i) => ({ x: s, y: [fLow[i], fHigh[i]] })),
          backgroundColor: "#bfc0c2",
          borderColor: "#333",
          borderWidth: 1,
          borderSkipped: false,
          barThickness: 13,
          grouped: false,
        },
        {
          type: "line",
          data: fMeanSpan.map((x) => ({ x, y: fMean })),
          borderColor: INK,
          borderWidth: 4,
          pointRadius: 0,
        },
      ],
    },
    options: opts,
    plugins: [
      makeDeco({
        name: "F", off: [560, 860], border: 4,
        texts: [
          { t: "F", x: 1032, y: 917, size: 38, sx: 1.05 },
          { t: "09AL93", x: 714, y: 920, size: 23, sx: 1.12, align: "center" },
          { t: "914±8 Ma", x: 834, y: 1200, size: 27, sx: 1.09, align: "center" },
        ],
        rich: [
          { parts: [["Weighted ", false], ["206", true], ["Pb/ ", false], ["238", true], [" U age", false]], x: 834, y: 1167, size: 27, sup: 17, sx: 1.08 },
          { parts: [["206", true], ["Pb/ ", false], ["238", true], ["U(Ma)", false]], x: 598, y: 1042, size: 19, sup: 12, rot: -90 },
        ],
        ticks: [{ axis: "y", from: 890, to: 930, step: 40, out: 4, inn: 10, lw: 3 }],
      }),
    ],
  };
}

const BUILDERS: any = { A: cfgA, B: cfgB, C: cfgC, D: cfgD, E: cfgE, F: cfgF, I: cfgInset };

export default function App() {
  const refs = useRef<(HTMLCanvasElement | null)[]>([]);
  useEffect(() => {
    const charts = PANELS.map((p, i) => new Chart(refs.current[i] as HTMLCanvasElement, BUILDERS[p.id]() as any));
    return () => charts.forEach((c) => c.destroy());
  }, []);
  return (
    <div style={{ position: "absolute", left: 0, top: 0, width: 1106, height: 1242, background: "#fff", overflow: "hidden" }}>
      {PANELS.map((p, i) => (
        <canvas
          key={p.id}
          ref={(el) => {
            refs.current[i] = el;
          }}
          width={p.w}
          height={p.h}
          style={{ position: "absolute", left: p.left, top: p.top, width: p.w, height: p.h }}
        />
      ))}
    </div>
  );
}
